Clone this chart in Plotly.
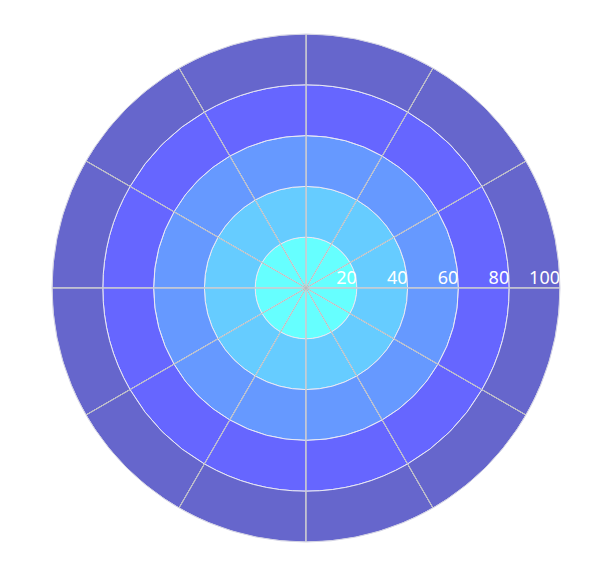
import plotly.graph_objects as go

# 12 angular sectors (degrees, centre of each sector)
sectors = [15, 45, 75, 105, 135, 165, 195, 225, 255, 285, 315, 345]

# five stacked series (ring thickness per sector)
ring1 = [20, 20, 20, 20, 20, 20, 20, 20, 20, 20, 20, 20]
ring2 = [20, 20, 20, 20, 20, 20, 20, 20, 20, 20, 20, 20]
ring3 = [20, 20, 20, 20, 20, 20, 20, 20, 20, 20, 20, 20]
ring4 = [20, 20, 20, 20, 20, 20, 20, 20, 20, 20, 20, 20]
ring5 = [20, 20, 20, 20, 20, 20, 20, 20, 20, 20, 20, 20]

ring_colors = ["#66ffff", "#66ccff", "#6699ff", "#6666ff", "#6666cc"]

radial_ticks = [20, 40, 60, 80, 100]
radial_labels = ["20", "40", "60", "80", "100"]
angular_ticks = [0, 30, 60, 90, 120, 150, 180, 210, 240, 270, 300, 330]

fig = go.Figure()
for vals, col in zip([ring1, ring2, ring3, ring4, ring5], ring_colors):
    fig.add_trace(go.Barpolar(
        r=vals, theta=sectors, width=[30] * len(sectors),
        marker=dict(color=col, line=dict(width=1, color="#e8e8f4")),
        opacity=1, showlegend=False, hoverinfo="skip",
    ))

# angular split lines drawn over the bars
spoke_r, spoke_t = [], []
for a in angular_ticks:
    spoke_r += [0, radial_ticks[-1], None]
    spoke_t += [a, a, None]
fig.add_trace(go.Scatterpolar(
    r=spoke_r, theta=spoke_t, mode="lines",
    line=dict(color="#bbbbbb", width=1),
    showlegend=False, hoverinfo="skip",
))

fig.add_trace(go.Scatterpolar(
    r=radial_ticks, theta=[0] * len(radial_ticks), mode="text",
    text=radial_labels, textposition="top left",
    textfont=dict(color="white", size=18, family="Noto Sans"),
    showlegend=False, hoverinfo="skip",
))

fig.update_layout(
    width=614, height=571,
    margin=dict(l=52, r=54, t=34, b=29),
    paper_bgcolor="white",
    barmode="stack",
    polar=dict(
        bgcolor="rgba(0,0,0,0)",
        bargap=0,
        radialaxis=dict(
            range=[0, 100], tickvals=radial_ticks, showticklabels=False,
            ticks="", showline=False, showgrid=False,
        ),
        angularaxis=dict(
            tickvals=angular_ticks, showticklabels=False, ticks="",
            showline=True, linecolor="#d4d4e4", linewidth=1,
            showgrid=False, direction="counterclockwise",
            rotation=0, layer="above traces",
        ),
    ),
)

fig.write_html("out.html")
